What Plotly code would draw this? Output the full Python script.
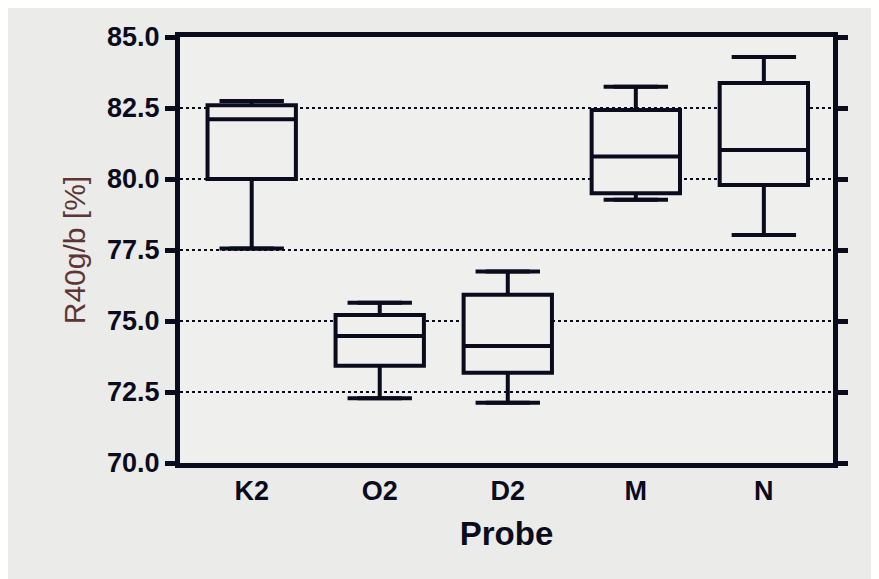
import plotly.graph_objects as go

categories = ["K2", "O2", "D2", "M", "N"]
lower_whisker = [77.55, 72.28, 72.12, 79.27, 78.03]
q1 = [80.0, 73.42, 73.18, 79.5, 79.79]
median = [82.1, 74.47, 74.12, 80.79, 81.02]
q3 = [82.6, 75.21, 75.92, 82.43, 83.38]
upper_whisker = [82.75, 75.64, 76.74, 83.25, 84.3]
y_ticks = [70.0, 72.5, 75.0, 77.5, 80.0, 82.5, 85.0]

xpos = list(range(len(categories)))
plot_bg = "#efefee"
ink = "#0b0b1e"

fig = go.Figure()
fig.add_trace(go.Box(
    x=xpos, q1=q1, median=median, q3=q3,
    lowerfence=lower_whisker, upperfence=upper_whisker,
    width=0.69, fillcolor=plot_bg,
    line=dict(color=ink, width=4), showlegend=False, hoverinfo="skip",
))
# whisker caps
fig.add_trace(go.Scatter(
    x=xpos + xpos, y=lower_whisker + upper_whisker, mode="markers",
    marker=dict(symbol="line-ew", size=46, line=dict(color=ink, width=4)),
    showlegend=False, hoverinfo="skip",
))

font_family = "Liberation Sans, Arial, sans-serif"
fig.update_layout(
    width=871, height=571,
    margin=dict(l=172, r=46, t=29, b=116),
    paper_bgcolor="#ebebea", plot_bgcolor=plot_bg,
    font=dict(family=font_family, color=ink),
    xaxis=dict(
        tickmode="array", tickvals=xpos, ticktext=["<b>%s</b>" % c for c in categories],
        range=[-0.56, 4.54], showgrid=False, zeroline=False,
        showline=True, linecolor=ink, linewidth=5, mirror=True,
        ticks="", tickfont=dict(size=27, color=ink),
        title=dict(text="<b>Probe</b>", font=dict(size=33, color=ink), standoff=18),
    ),
    yaxis=dict(
        range=[70, 85], tickmode="array", tickvals=y_ticks,
        ticktext=["<b>%.1f</b>" % v for v in y_ticks],
        tickfont=dict(size=27, color=ink),
        showgrid=True, gridcolor=ink, gridwidth=2, griddash="dot",
        zeroline=False, showline=True, linecolor=ink, linewidth=5, mirror="ticks",
        ticks="outside", ticklen=10, tickwidth=5, tickcolor=ink,
        title=dict(text="R40g/b [%]", font=dict(size=30, color="#5e3535"), standoff=14),
    ),
)
fig.write_html("out.html")
